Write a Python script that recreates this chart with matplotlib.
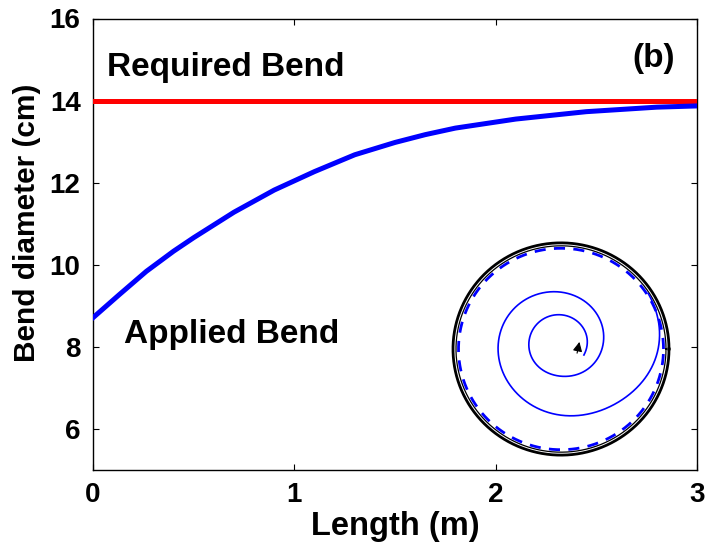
import numpy as np
import matplotlib
matplotlib.use("Agg")
import matplotlib.pyplot as plt

plt.rcParams['font.family'] = ['Liberation Sans', 'DejaVu Sans']
plt.rcParams['font.weight'] = 'bold'

# Main curve data
length_m = [0.0, 0.13, 0.265, 0.4, 0.5, 0.7, 0.9, 1.1, 1.3, 1.5, 1.65, 1.8, 2.1, 2.45, 2.8, 3.0]
applied_bend = [8.71, 9.27, 9.84, 10.33, 10.66, 11.28, 11.82, 12.27, 12.68, 12.98, 13.17, 13.33, 13.55, 13.73, 13.84, 13.87]
required_bend = 14.0

x_ticks = [0, 1, 2, 3]
y_ticks = [6, 8, 10, 12, 14, 16]

# Inset spiral key points (cumulative angle in degrees, radius in pixels)
spiral_angle = [-24, 8, 88, 175, 272, 322, 373, 409, 452, 502, 544, 593, 639, 685, 702, 713, 730, 750]
spiral_radius = [26.7, 29.0, 30.0, 30.0, 31.5, 39, 46, 50, 53, 58, 61, 65, 73.5, 84, 96, 104, 103.5, 103]

W, H = 708, 549
fig = plt.figure(figsize=(W / 100, H / 100), dpi=100)

ax_l, ax_r, ax_t, ax_b = 93, 697, 18.5, 470
ax = fig.add_axes([ax_l / W, 1 - ax_b / H, (ax_r - ax_l) / W, (ax_b - ax_t) / H])

ax.axhline(required_bend, color='#ff0000', lw=3.6, zorder=3)
ax.plot(length_m, applied_bend, color='#0000ff', lw=3.6, zorder=3, solid_joinstyle='round')

ax.set_xlim(0, 3)
ax.set_ylim(5, 16)
ax.set_xticks(x_ticks)
ax.set_yticks(y_ticks)
ax.tick_params(direction='in', length=4, width=0.8, top=True, right=True,
               labelsize=20, pad=9)
for lab in ax.get_xticklabels() + ax.get_yticklabels():
    lab.set_fontweight('bold')
for s in ax.spines.values():
    s.set_linewidth(1.0)

ax.set_xlabel('Length (m)', fontsize=23.5, fontweight='bold', labelpad=2)
ax.set_ylabel('Bend diameter (cm)', fontsize=21.5, fontweight='bold')
ax.yaxis.set_label_coords(-0.086, 0.547)

ax.text(0.07, 14.6, 'Required Bend', fontsize=24, fontweight='bold', ha='left', va='baseline')
ax.text(0.154, 8.10, 'Applied Bend', fontsize=24, fontweight='bold', ha='left', va='baseline')
ax.text(2.89, 14.82, '(b)', fontsize=24, fontweight='bold', ha='right', va='baseline')

# Inset
cx, cy = 561, 349
half_w, half_h = 115, 113
ins = fig.add_axes([(cx - half_w) / W, 1 - (cy + half_h) / H, 2 * half_w / W, 2 * half_h / H])
ins.set_xlim(-115, 115)
ins.set_ylim(-115, 115)
ins.axis('off')
ins.patch.set_alpha(0)

t = np.linspace(0, 2 * np.pi, 400)
ins.plot(108 * np.cos(t), 108 * np.sin(t), color='black', lw=2.0)
ins.plot(105 * np.cos(t), 105 * np.sin(t), color='black', lw=0.9)
ins.plot(102.5 * np.cos(t), 102.5 * np.sin(t), color='#0000ff', lw=2.0, dashes=(4, 3))

ang = np.linspace(spiral_angle[0], spiral_angle[-1], 1600)
rad = np.interp(ang, spiral_angle, spiral_radius)
k = np.exp(-0.5 * (np.arange(-120, 121) / 45.0) ** 2)
k /= k.sum()
rad_pad = np.concatenate([np.full(120, rad[0]), rad, np.full(120, rad[-1])])
rad_s = np.convolve(rad_pad, k, mode='same')[120:-120]
sx = -2 + rad_s * np.cos(np.radians(ang))
sy = 5 + rad_s * np.sin(np.radians(ang))
ins.plot(sx, sy, color='#0000ff', lw=1.2)

ins.annotate('', xy=(19, 10), xytext=(15.5, -7),
             arrowprops=dict(arrowstyle='-|>', color='black', lw=0.8, mutation_scale=14))

fig.savefig('out.png', dpi=100)
